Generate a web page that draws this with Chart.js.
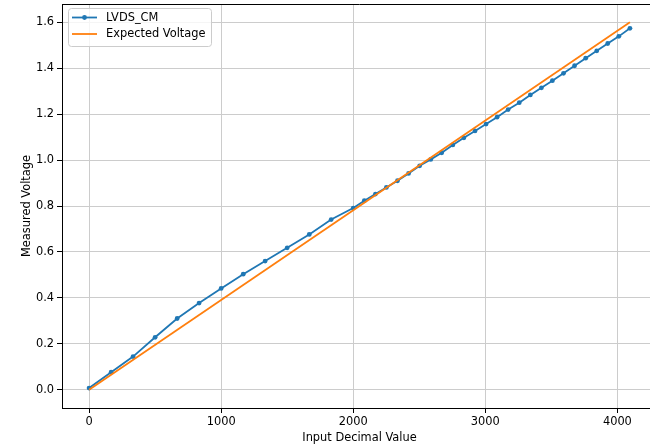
<!DOCTYPE html>
<html>
<head>
    <title>LVDS_CM vs Input</title>
    <script src="https://cdn.jsdelivr.net/npm/chart.js"></script>
    <style>
        body {
            margin: 0;
            padding: 0;
            overflow: hidden;
            background: #fff;
        }
        #wrap {
            width: 650px;
            height: 447px;
            overflow: hidden; /* the plot runs past the right edge, like the picture */
        }
    </style>
</head>
<body>

<div id="wrap">
    <canvas id="chart" width="661" height="447"></canvas>
</div>

<script>
    // data
    var inputValues = [0, 167, 333, 500, 667, 833, 1000, 1167, 1333, 1500, 1667, 1833,
        2000, 2084, 2168, 2251, 2335, 2419, 2503, 2587, 2670, 2754, 2838, 2922, 3006,
        3089, 3173, 3257, 3341, 3425, 3508, 3592, 3676, 3760, 3844, 3927, 4011, 4095];
    var lvdsCm = [0.007, 0.076, 0.144, 0.228, 0.310, 0.377, 0.441, 0.503, 0.560, 0.618, 0.676, 0.741,
        0.791, 0.823, 0.852, 0.881, 0.910, 0.942, 0.975, 1.003, 1.032, 1.066, 1.097, 1.127, 1.157,
        1.187, 1.220, 1.250, 1.284, 1.315, 1.346, 1.378, 1.411, 1.444, 1.476, 1.508, 1.539, 1.574];
    var expectedX = [0, 4095];
    var expectedY = [0, 1.6];
    var xTicks = [0, 1000, 2000, 3000, 4000];
    var yTicks = [0, 0.2, 0.4, 0.6, 0.8, 1.0, 1.2, 1.4, 1.6];

    function pts(xs, ys) {
        return xs.map(function (x, i) { return {x: x, y: ys[i]}; });
    }

    var FONT = {family: 'DejaVu Sans', size: 11.4};

    // top/right spines + legend box like matplotlib
    var framePlugin = {
        id: 'frame',
        afterDraw: function (chart) {
            var ctx = chart.ctx, a = chart.chartArea;
            ctx.save();
            ctx.strokeStyle = '#000';
            ctx.lineWidth = 1;
            ctx.beginPath();
            ctx.moveTo(a.left, a.top + 0.5);
            ctx.lineTo(a.right, a.top + 0.5);
            ctx.lineTo(a.right - 0.5, a.bottom);
            ctx.stroke();

            // legend
            var x0 = 68, y0 = 8, w = 143, h = 38, r = 3;
            ctx.fillStyle = 'rgba(255,255,255,0.8)';
            ctx.strokeStyle = '#cccccc';
            ctx.beginPath();
            ctx.roundRect(x0 + 0.5, y0 + 0.5, w, h, r);
            ctx.fill();
            ctx.stroke();

            var rows = [17.5, 34];
            ctx.font = '11.4px "DejaVu Sans"';
            ctx.textBaseline = 'middle';
            chart.data.datasets.forEach(function (ds, i) {
                var y = rows[i];
                ctx.strokeStyle = ds.borderColor;
                ctx.lineWidth = 1.8;
                ctx.beginPath();
                ctx.moveTo(72, y);
                ctx.lineTo(97, y);
                ctx.stroke();
                if (ds.pointRadius > 0) {
                    ctx.fillStyle = ds.borderColor;
                    ctx.beginPath();
                    ctx.arc(84.5, y, ds.pointRadius, 0, Math.PI * 2);
                    ctx.fill();
                }
                ctx.fillStyle = '#000';
                ctx.fillText(ds.label, 106, y + 0.5);
            });
            ctx.restore();
        }
    };

    new Chart(document.getElementById('chart'), {
        type: 'scatter',
        data: {
            datasets: [{
                label: 'LVDS_CM',
                data: pts(inputValues, lvdsCm),
                showLine: true,
                borderColor: '#1f77b4',
                backgroundColor: '#1f77b4',
                borderWidth: 1.8,
                pointRadius: 2.4,
                pointBorderWidth: 0,
                order: 1
            }, {
                label: 'Expected Voltage',
                data: pts(expectedX, expectedY),
                showLine: true,
                borderColor: '#ff7f0e',
                backgroundColor: '#ff7f0e',
                borderWidth: 1.8,
                pointRadius: 0,
                order: 0
            }]
        },
        options: {
            responsive: false,
            animation: false,
            devicePixelRatio: 1,
            layout: {padding: {top: 2, right: 1, left: 0, bottom: 0}},
            plugins: {
                legend: {display: false},
                tooltip: {enabled: false}
            },
            scales: {
                x: {
                    type: 'linear',
                    min: -205,
                    max: 4300,
                    afterFit: function (s) {
                        s.height = 39;
                        s.paddingLeft = 0;
                        s.paddingRight = 0;
                    },
                    afterBuildTicks: function (s) {
                        s.ticks = xTicks.map(function (v) { return {value: v}; });
                    },
                    ticks: {
                        color: '#000',
                        font: FONT,
                        padding: 2,
                        maxRotation: 0,
                        callback: function (v) { return String(v); }
                    },
                    grid: {color: '#cccccc', lineWidth: 1, tickColor: '#000', tickLength: 5},
                    border: {display: true, color: '#000', width: 1},
                    title: {
                        display: true,
                        text: 'Input Decimal Value',
                        color: '#000',
                        font: FONT,
                        padding: {top: 0, bottom: 2}
                    }
                },
                y: {
                    type: 'linear',
                    min: -0.08,
                    max: 1.68,
                    afterFit: function (s) {
                        s.width = 62;
                        s.paddingTop = 0;
                        s.paddingBottom = 0;
                    },
                    afterBuildTicks: function (s) {
                        s.ticks = yTicks.map(function (v) { return {value: v}; });
                    },
                    ticks: {
                        color: '#000',
                        font: FONT,
                        padding: 3,
                        callback: function (v) { return Number(v).toFixed(1); }
                    },
                    grid: {color: '#cccccc', lineWidth: 1, tickColor: '#000', tickLength: 5},
                    border: {display: true, color: '#000', width: 1},
                    title: {
                        display: true,
                        text: 'Measured Voltage',
                        color: '#000',
                        font: FONT,
                        padding: {top: 20, bottom: 0}
                    }
                }
            }
        },
        plugins: [framePlugin]
    });
</script>

</body>
</html>
